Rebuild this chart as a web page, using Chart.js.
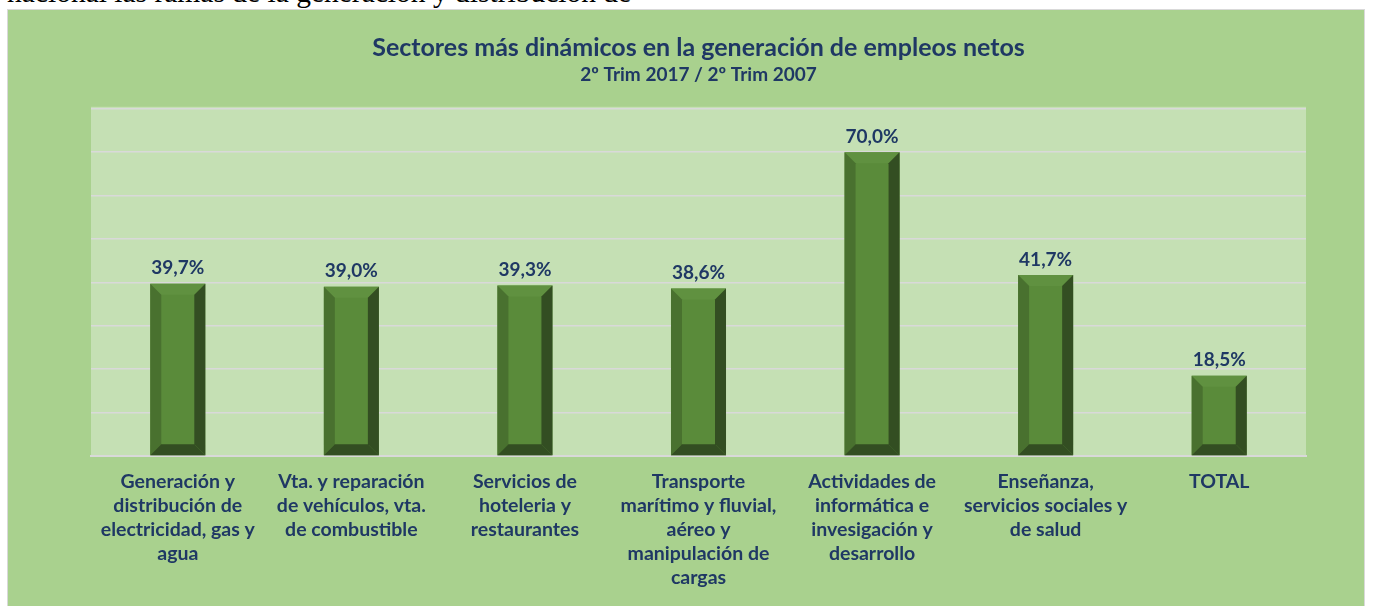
<!DOCTYPE html>
<html>
<head>
<meta charset="utf-8">
<script src="https://cdn.jsdelivr.net/npm/chart.js@4"></script>
<style>
  body { margin: 0; background: #fff; width: 1373px; height: 606px; overflow: hidden; position: relative; }
  #top-text { position: absolute; left: 7px; top: -22px; font-family: "Liberation Serif", serif; font-size: 29.5px; line-height: 29px; color: #000; white-space: nowrap; }
  #box { position: absolute; left: 7px; top: 9px; width: 1356px; height: 600px; background: #A9D18E; border: 1px solid #D9D9D9; }
  canvas { position: absolute; left: 0; top: 0; }
</style>
</head>
<body>
<div id="top-text">nacional las ramas de la generación y distribución de</div>
<div id="box"><canvas id="chart" width="1356" height="597"></canvas></div>
<script>
// chart values
const categories = [
  ['Generación y', 'distribución de', 'electricidad, gas y', 'agua'],
  ['Vta. y reparación', 'de vehículos, vta.', 'de combustible'],
  ['Servicios de', 'hoteleria y', 'restaurantes'],
  ['Transporte', 'marítimo y fluvial,', 'aéreo y', 'manipulación de', 'cargas'],
  ['Actividades de', 'informática e', 'invesigación y', 'desarrollo'],
  ['Enseñanza,', 'servicios sociales y', 'de salud'],
  ['TOTAL']
];
const values = [39.7, 39.0, 39.3, 38.6, 70.0, 41.7, 18.5];
const yTicks = [0, 10, 20, 30, 40, 50, 60, 70, 80];

const navy = '#1F3864';
const font = 'Lato, "Open Sans", sans-serif';

// light plot background
const plotBg = {
  id: 'plotBg',
  beforeDraw(chart) {
    const { ctx, chartArea: a } = chart;
    ctx.save();
    ctx.fillStyle = '#C5E0B4';
    ctx.fillRect(a.left, a.top - 2, a.right - a.left, a.bottom - a.top + 2);
    ctx.restore();
  }
};

// bevel edges and value labels on each bar
const bevel = {
  id: 'bevel',
  afterDatasetsDraw(chart) {
    const ctx = chart.ctx;
    const meta = chart.getDatasetMeta(0);
    meta.data.forEach((bar, i) => {
      const l = bar.x - bar.width / 2, r = bar.x + bar.width / 2;
      const t = bar.y, b = bar.base, d = 11;
      const poly = (pts, c) => {
        ctx.beginPath();
        ctx.moveTo(pts[0][0], pts[0][1]);
        pts.slice(1).forEach(p => ctx.lineTo(p[0], p[1]));
        ctx.closePath();
        ctx.fillStyle = c;
        ctx.fill();
      };
      ctx.save();
      poly([[l, t], [r, t], [r - d, t + d], [l + d, t + d]], '#609140');
      poly([[l, t], [l + d, t + d], [l + d, b - d], [l, b]], '#49712F');
      poly([[r, t], [r, b], [r - d, b - d], [r - d, t + d]], '#334E22');
      poly([[l, b], [l + d, b - d], [r - d, b - d], [r, b]], '#334E22');
      ctx.fillStyle = navy;
      ctx.font = 'bold 19px ' + font;
      ctx.textAlign = 'center';
      ctx.textBaseline = 'bottom';
      ctx.fillText(values[i].toFixed(1).replace('.', ',') + '%', bar.x, t - 6);
      ctx.restore();
    });
  }
};

new Chart(document.getElementById('chart'), {
  type: 'bar',
  data: {
    labels: categories,
    datasets: [{
      data: values,
      backgroundColor: '#5A8B3A',
      barPercentage: 0.317,
      categoryPercentage: 1
    }]
  },
  options: {
    responsive: false,
    animation: false,
    layout: { padding: { left: 83, right: 58, top: 0, bottom: 0 } },
    plugins: {
      legend: { display: false },
      tooltip: { enabled: false },
      title: {
        display: true,
        text: 'Sectores más dinámicos en la generación de empleos netos',
        color: navy,
        font: { family: font, size: 25, weight: 'bold', lineHeight: 1.2 },
        padding: { top: 23, bottom: 0 }
      },
      subtitle: {
        display: true,
        text: '2º Trim 2017 / 2º Trim 2007',
        color: navy,
        font: { family: font, size: 19, weight: 'bold', lineHeight: 1.2 },
        padding: { top: 0, bottom: 23 }
      }
    },
    scales: {
      x: {
        grid: { display: false },
        border: { display: true, color: '#D9D9D9', width: 2 },
        ticks: {
          color: navy,
          font: { family: font, size: 19.5, weight: 'bold', lineHeight: 1.23 },
          maxRotation: 0,
          autoSkip: false,
          padding: 6
        },
        afterFit(scale) { scale.height = 151; }
      },
      y: {
        min: 0,
        max: 80,
        afterBuildTicks(scale) { scale.ticks = yTicks.map(v => ({ value: v })); },
        grid: { color: '#D9D9D9', lineWidth: 1.5, drawTicks: false },
        border: { display: false },
        ticks: { display: false },
        afterFit(scale) { scale.width = 0; }
      }
    }
  },
  plugins: [plotBg, bevel]
});
</script>
</body>
</html>
